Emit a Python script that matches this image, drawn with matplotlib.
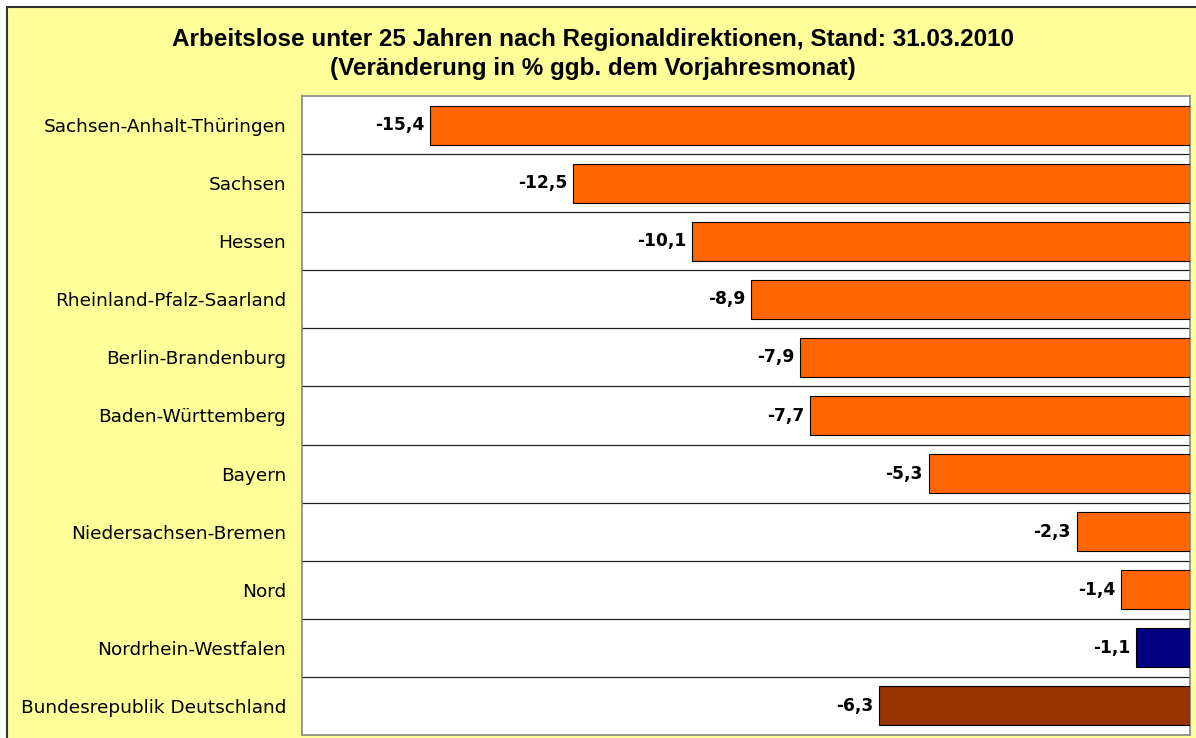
import matplotlib
matplotlib.use("Agg")
import matplotlib.pyplot as plt
from matplotlib.patches import Rectangle

regions = [
    "Sachsen-Anhalt-Thüringen",
    "Sachsen",
    "Hessen",
    "Rheinland-Pfalz-Saarland",
    "Berlin-Brandenburg",
    "Baden-Württemberg",
    "Bayern",
    "Niedersachsen-Bremen",
    "Nord",
    "Nordrhein-Westfalen",
    "Bundesrepublik Deutschland",
]
changes = [-15.4, -12.5, -10.1, -8.9, -7.9, -7.7, -5.3, -2.3, -1.4, -1.1, -6.3]
bar_colors = ["#FF6600"] * 9 + ["#000080", "#993300"]

plt.rcParams["font.family"] = ["DejaVu Sans"]

fig = plt.figure(figsize=(11.96, 7.38), dpi=100)
fig.patch.set_facecolor("white")

# yellow chart area with dark frame
frame = Rectangle((7 / 1196, -0.01), 1.2, (738 - 7) / 738 + 0.01,
                  transform=fig.transFigure, facecolor="#FFFF99",
                  edgecolor="#333333", linewidth=1.5, zorder=-5)
fig.patches.append(frame)

ax = fig.add_axes([302 / 1196, 3 / 738, (1190 - 302) / 1196, (735 - 96) / 738])
ax.set_zorder(2)
ax.set_facecolor("white")

y = list(range(len(regions)))
ax.barh(y, changes, height=0.67, color=bar_colors, edgecolor="black",
        linewidth=0.8, zorder=3)

for i, v in enumerate(changes):
    ax.annotate(f"{v:.1f}".replace(".", ","), (v, i), xytext=(-4, 0),
                textcoords="offset points", ha="right", va="center",
                fontsize=12.3, fontweight="bold", color="black")

for i in range(len(regions) - 1):
    ax.axhline(i + 0.5, color="#222222", linewidth=0.9, zorder=1)

ax.set_xlim(-18, 0)
ax.set_ylim(len(regions) - 0.5, -0.5)
ax.set_yticks(y)
ax.set_yticklabels(regions, fontsize=13.3)
ax.tick_params(axis="y", length=0, pad=11.5)
ax.set_xticks([])
for s in ax.spines.values():
    s.set_color("#888888")
    s.set_linewidth(1.2)

title_font = ["Liberation Sans", "DejaVu Sans"]
fig.text(0.496, 0.946, "Arbeitslose unter 25 Jahren nach Regionaldirektionen, Stand: 31.03.2010",
         ha="center", va="center", fontsize=17.5, fontweight="bold", family=title_font)
fig.text(0.496, 0.907, "(Veränderung in % ggb. dem Vorjahresmonat)",
         ha="center", va="center", fontsize=17.5, fontweight="bold", family=title_font)

fig.savefig("out.png", dpi=100, facecolor=fig.get_facecolor())
